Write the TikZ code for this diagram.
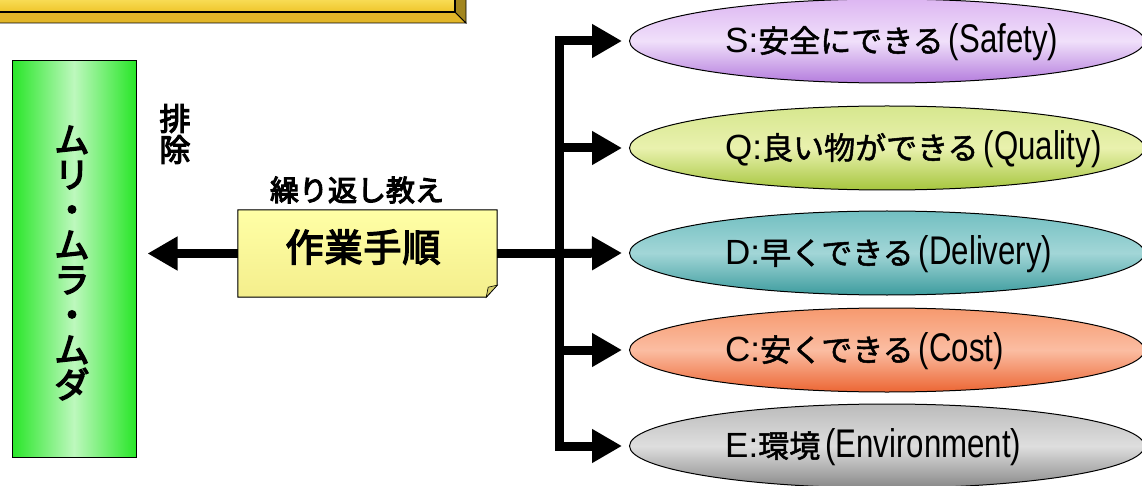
\documentclass[tikz,border=0pt]{standalone}
\usepackage{fontspec}
\usepackage{graphicx}
\setmainfont{Noto Sans CJK JP}
\newfontfamily\latf{Liberation Sans}
\usetikzlibrary{arrows.meta,shapes.geometric}
\newcommand\embold[2]{\special{pdf:code #1 w 2 Tr}#2\special{pdf:code 0 Tr}}
\newcommand\latpart[1]{{\latf\fontsize{40}{40}\selectfont\scalebox{0.78}[1]{#1}}}
\newcommand\latlead[1]{{\latf\fontsize{35}{35}\selectfont #1}}
\definecolor{goldA}{HTML}{F9DF5A}
\definecolor{goldB}{HTML}{EFC52A}
\definecolor{goldBev}{HTML}{E2B628}
\definecolor{goldDark}{HTML}{A2861E}
\definecolor{grnEdge}{HTML}{28E628}
\definecolor{grnMid}{HTML}{BDF8BD}
\definecolor{noteA}{HTML}{FFFFA6}
\definecolor{noteB}{HTML}{F4EE8C}
\definecolor{noteFold}{HTML}{D6CF6A}
\definecolor{sTop}{HTML}{DDB6F2}
\definecolor{sMid}{HTML}{F0E0FA}
\definecolor{sBot}{HTML}{B47CDD}
\definecolor{qTop}{HTML}{D6E78E}
\definecolor{qMid}{HTML}{E9F1AE}
\definecolor{qBot}{HTML}{A6C63E}
\definecolor{dTop}{HTML}{72BFC1}
\definecolor{dMid}{HTML}{A2D6D7}
\definecolor{dBot}{HTML}{3D9C9E}
\definecolor{cTop}{HTML}{F6996E}
\definecolor{cMid}{HTML}{FBBDA2}
\definecolor{cBot}{HTML}{EC6634}
\definecolor{eTop}{HTML}{BBBBBB}
\definecolor{eMid}{HTML}{DEDEDE}
\definecolor{eBot}{HTML}{888888}
\begin{document}
\begin{tikzpicture}[x=1pt,y=-1pt,line join=miter,
  conn/.style={line width=9pt},
  tipped/.style={-{Triangle[length=30pt,width=32pt]}},
  ell/.style={ellipse,draw=black,line width=1pt,minimum width=515pt,minimum height=84pt,inner sep=0pt},
  etext/.style={anchor=west,inner sep=0pt,font=\fontsize{31}{36}\selectfont},
  bold/.style={font=\fontsize{#1}{#1}\selectfont,align=center,inner sep=0pt}]
\useasboundingbox (0,0) rectangle (1142,486);
% top bevelled box (cut off)
\fill[top color=goldA,bottom color=goldB] (-2,-2) rectangle (455,12);
\filldraw[fill=goldBev,line width=0.8pt] (-2,12) -- (455,12) -- (466,23) -- (-2,23);
\filldraw[fill=goldDark,line width=0.8pt] (455,-2) -- (466,-2) -- (466,23) -- (455,12) -- cycle;
\draw[line width=1.2pt] (-2,12) -- (455,12) -- (455,-2);
% green box
\node[draw=black,line width=1pt,minimum width=124pt,minimum height=396pt,inner sep=0pt,
  left color=grnEdge,right color=grnEdge,middle color=grnMid] (green) at (74,259) {};
\node[bold=35] (mmm) at (72,263) {\embold{1.4}{ム\\リ\\・\\ム\\ラ\\・\\ム\\ダ}};
\node[bold=31] (haijo) at (175,134) {\embold{1.2}{排\\除}};
% note box
\node[minimum width=259pt,minimum height=87pt,inner sep=0pt] (box) at (367.5,253.5) {};
\filldraw[top color=noteA,bottom color=noteB,draw=black,line width=1pt]
  (box.north west) -- (box.north east) -- ([yshift=12pt]box.south east)
  -- ([xshift=-11pt]box.south east) -- (box.south west) -- cycle;
\filldraw[fill=noteFold,draw=black,line width=0.6pt]
  ([yshift=12pt]box.south east) -- ([xshift=-11pt]box.south east)
  -- ([xshift=-9pt,yshift=10pt]box.south east) -- cycle;
\node[bold=38] (sagyo) at (363,247) {\embold{1.4}{作\kern1pt 業\kern1pt 手\kern1pt 順}};
\node[bold=29] (kuri) at (357,190) {\embold{1.1}{繰り返し教え}};
% ellipses
\node[ell,top color=sTop,bottom color=sBot,middle color=sMid] (S) at (887,41) {};
\node[ell,top color=qTop,bottom color=qBot,middle color=qMid] (Q) at (887,148) {};
\node[ell,top color=dTop,bottom color=dBot,middle color=dMid] (D) at (887,253) {};
\node[ell,top color=cTop,bottom color=cBot,middle color=cMid] (C) at (887,350) {};
\node[ell,top color=eTop,bottom color=eBot,middle color=eMid] (E) at (887,446) {};
\node[etext] (St) at (725,42) {\latlead{S:}\embold{0.5}{安全にできる}\,\latpart{(Safety)}};
\node[etext] (Qt) at (725,149) {\latlead{Q:}\embold{0.5}{良い物ができる}\,\latpart{(Quality)}};
\node[etext] (Dt) at (725,254) {\latlead{D:}\embold{0.5}{早くできる}\,\latpart{(Delivery)}};
\node[etext] (Ct) at (725,351) {\latlead{C:}\embold{0.5}{安くできる}\,\latpart{(Cost)}};
\node[etext] (Et) at (725,447) {\latlead{E:}\embold{0.5}{環境}\,\latpart{(Environment)}};
% connectors
\coordinate (J) at (559.5,253.5);
\draw[conn] (box.east) -- (J);
\draw[conn,tipped] (J) |- ([xshift=-7pt]S.west);
\draw[conn,tipped] (J) |- ([xshift=-7pt]Q.west);
\draw[conn,tipped] (J) -- ([xshift=-7pt]D.west);
\draw[conn,tipped] (J) |- ([xshift=-7pt]C.west);
\draw[conn,tipped] (J) |- ([xshift=-7pt]E.west);
\draw[conn,tipped,shorten >=11pt] (box.west) -- (box.west -| green.east);
\end{tikzpicture}
\end{document}
